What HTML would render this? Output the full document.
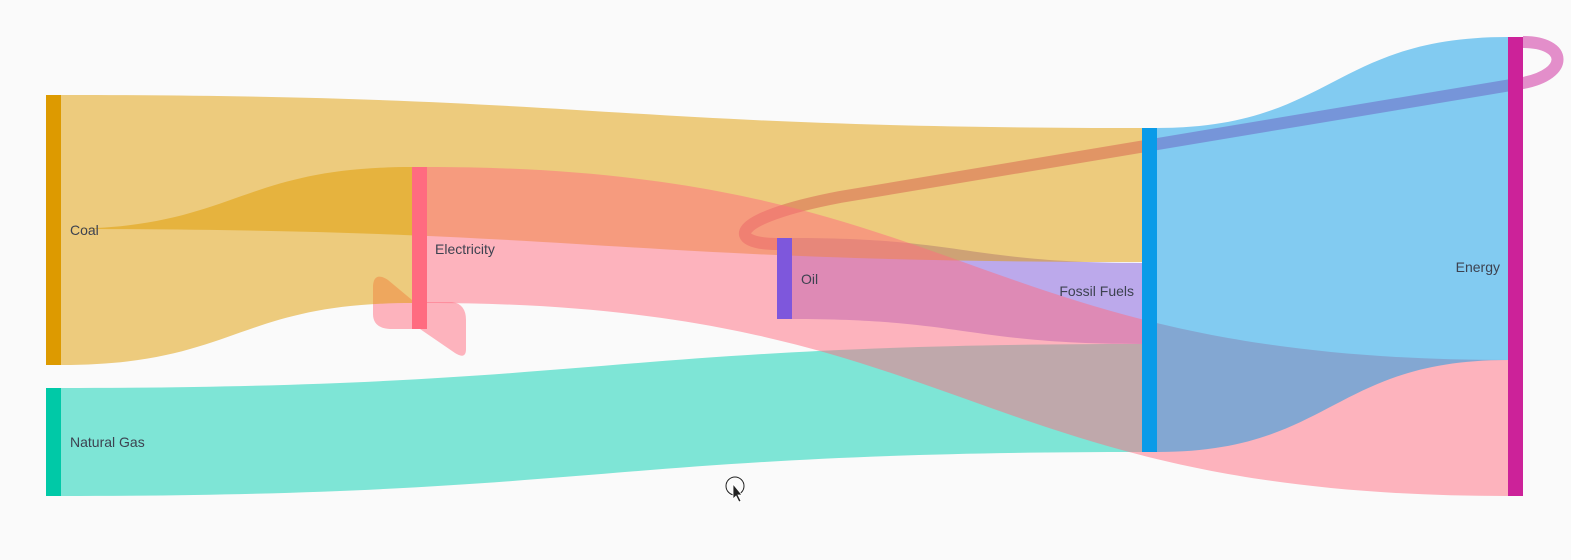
<!DOCTYPE html>
<html><head><meta charset="utf-8"><style>
html,body{margin:0;padding:0;background:#fafafa;}
svg{display:block;}
text{font-family:"Liberation Sans",sans-serif;font-size:14px;fill:#3d4250;}
</style></head><body>
<svg width="1571" height="560" viewBox="0 0 1571 560" xmlns="http://www.w3.org/2000/svg">
<rect width="1571" height="560" fill="#fafafa"/>
<!-- Energy -> Oil loop (bottom) -->
<path d="M1523,42 C1568,42 1570,74 1523,83 L840,197 C725,219 728,244 777,244" fill="none" stroke="#cc2299" stroke-opacity="0.5" stroke-width="12"/>
<!-- Electricity self loop -->
<path d="M412,302 L452,302 Q466,304 466,320 L466,349 Q466,360 455,353 L420,329 L390,329 Q373,328 373,314 L373,286 Q374,271 388,280 L412,300 Z" fill="#ff6b80" fill-opacity="0.5"/>
<!-- Oil -> FF -->
<path d="M792,238 C967,238 967,263 1142,263 L1142,344 C967,344 967,319 792,319 Z" fill="#7e57dc" fill-opacity="0.5"/>
<!-- Coal -> FF -->
<path d="M61,95 C601,95 601,128 1142,128 L1142,262 C601,262 601,229 61,229 Z" fill="#e09c00" fill-opacity="0.5"/>
<!-- Coal -> Electricity -->
<path d="M61,229 C236,229 236,167 412,167 L412,303 C236,303 236,365 61,365 Z" fill="#e09c00" fill-opacity="0.5"/>
<!-- NG -> FF -->
<path d="M61,388 C601,388 601,344 1142,344 L1142,452 C601,452 601,496 61,496 Z" fill="#02cfb2" fill-opacity="0.5"/>
<!-- Electricity -> Energy -->
<path d="M427,167 C967,167 967,360 1508,360 L1508,496 C967,496 967,303 427,303 Z" fill="#ff6b80" fill-opacity="0.5"/>
<!-- FF -> Energy -->
<path d="M1157,128 C1332,128 1332,37 1508,37 L1508,360 C1332,360 1332,452 1157,452 Z" fill="#0a9be8" fill-opacity="0.5"/>
<!-- nodes -->
<rect x="46" y="95" width="15" height="270" fill="#dd9a00"/>
<rect x="46" y="388" width="15" height="108" fill="#00c9a7"/>
<rect x="412" y="167" width="15" height="162" fill="#ff6b80"/>
<rect x="777" y="238" width="15" height="81" fill="#7e57dc"/>
<rect x="1142" y="128" width="15" height="324" fill="#0a9be8"/>
<rect x="1508" y="37" width="15" height="459" fill="#cc2299"/>
<!-- labels -->
<text x="70" y="235">Coal</text>
<text x="70" y="447">Natural Gas</text>
<text x="435" y="254">Electricity</text>
<text x="801" y="284">Oil</text>
<text x="1134" y="296" text-anchor="end">Fossil Fuels</text>
<text x="1500" y="272" text-anchor="end">Energy</text>
<!-- cursor -->
<circle cx="735" cy="486" r="9" fill="none" stroke="#222" stroke-width="1"/>
<path d="M733,484 L733,499 L736,496 L739,502 L741,501 L738,495 L742,495 Z" fill="#222" stroke="#fff" stroke-width="0.8"/>
</svg>
</body></html>
